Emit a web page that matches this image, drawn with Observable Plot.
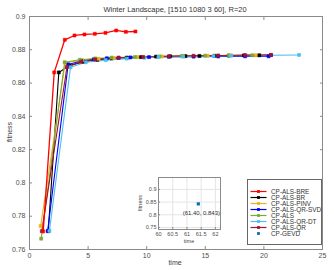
<!DOCTYPE html>
<html><head><meta charset="utf-8">
<script src="https://cdn.jsdelivr.net/npm/d3@7"></script>
<script src="https://cdn.jsdelivr.net/npm/@observablehq/plot@0.6"></script>
<style>
body{margin:0;background:#fff;}
#wrap{position:relative;width:334px;height:270px;font-family:"Liberation Sans",Arial,sans-serif;}
#wrap svg{position:absolute;overflow:visible;}
.lbl{position:absolute;color:#404040;white-space:nowrap;line-height:1;}
</style></head>
<body><div id="wrap"></div>
<script>
const title = "Winter Landscape, [1510 1080 3 60], R=20";
const xLabel = "time";
const yLabel = "fitness";
const xTicks = [0, 5, 10, 15, 20, 25];
const yTicks = [0.76, 0.78, 0.8, 0.82, 0.84, 0.86, 0.88, 0.9];

const seriesNames = ["CP-ALS-BRE","CP-ALS-BR","CP-ALS-PINV","CP-ALS-QR-SVD","CP-ALS","CP-ALS-QR-DT","CP-ALS-QR","CP-GEVD"];
const seriesColors = ["#FF0000","#000000","#EDB120","#0000FF","#77AC30","#4DBEEE","#A2142F","#0072BD"];

const breT = [1.17, 2.11, 3.01, 3.84, 4.69, 5.57, 6.48, 7.40, 8.22, 9.04];
const breF = [0.7709, 0.8664, 0.8860, 0.8886, 0.8892, 0.8896, 0.8902, 0.8916, 0.8908, 0.8910];
const brT = [1.6, 2.5, 3.4, 4.6, 5.8, 7.0, 8.3, 9.5, 10.8, 12.0, 13.3, 14.5, 15.8, 17.0, 18.3, 19.6, 20.6];
const brF = [0.7710, 0.8664, 0.8705, 0.8728, 0.8740, 0.8748, 0.8753, 0.8756, 0.8759, 0.8761, 0.8762, 0.8763, 0.8764, 0.8765, 0.8766, 0.8767, 0.8768];
const pinvT = [0.95, 3.05, 4.5, 5.9, 7.2, 9.2, 11.3, 13.1, 15.2, 17.2, 19.3];
const pinvF = [0.7741, 0.8722, 0.8738, 0.8746, 0.8751, 0.8756, 0.8760, 0.8762, 0.8764, 0.8766, 0.8767];
const qrsvdT = [1.55, 3.3, 4.4, 5.5, 6.6, 7.6, 8.6, 10.2, 11.9, 14.0, 16.1, 18.4, 20.4];
const qrsvdF = [0.7712, 0.8712, 0.8733, 0.8743, 0.8749, 0.8752, 0.8754, 0.8756, 0.8758, 0.8759, 0.8760, 0.8761, 0.8761];
const alsT = [1.0, 3.0, 4.3, 5.6, 7.0, 9.0, 11.1, 13.0, 15.0, 17.0, 19.0];
const alsF = [0.7665, 0.8725, 0.8740, 0.8748, 0.8753, 0.8757, 0.8760, 0.8763, 0.8765, 0.8766, 0.8767];
const qrdtT = [1.7, 3.5, 4.8, 6.5, 8.3, 9.8, 11.0, 13.1, 15.7, 17.2, 23.0];
const qrdtF = [0.7712, 0.8695, 0.8725, 0.8738, 0.8747, 0.8752, 0.8756, 0.8759, 0.8763, 0.8765, 0.8769];
const qrT = [1.05, 3.2, 4.4, 5.6, 7.6, 9.7, 11.9, 14.0, 16.1, 18.4, 20.6];
const qrF = [0.7710, 0.8697, 0.8728, 0.8742, 0.8752, 0.8757, 0.8761, 0.8764, 0.8766, 0.8768, 0.8769];

const gevdT = [61.40];
const gevdF = [0.843];
const insetXTicks = [60, 60.5, 61, 61.5, 62];
const insetYTicks = [0.75, 0.8, 0.85, 0.9];

const allT = [breT, brT, pinvT, qrsvdT, alsT, qrdtT, qrT];
const allF = [breF, brF, pinvF, qrsvdF, alsF, qrdtF, qrF];
const rows = [];
allT.forEach((ts, s) => ts.forEach((t, i) => rows.push({s: seriesNames[s], t, f: allF[s][i]})));
const gevd = gevdT.map((t, i) => ({t, f: gevdF[i]}));

const color = {domain: seriesNames, range: seriesColors};
const font = "Liberation Sans, Arial, sans-serif";
const axisCol = "#8a8a8a";
const txtCol = "#4d4d4d";
const wrap = document.getElementById("wrap");

const main = Plot.plot({
  width: 334, height: 270,
  marginLeft: 29, marginRight: 12, marginTop: 16, marginBottom: 21,
  x: {domain: [0, 25]},
  y: {domain: [0.76, 0.9]},
  color,
  style: {fontFamily: font, fontSize: "7px", color: txtCol, background: "white"},
  marks: [
    Plot.frame({stroke: axisCol}),
    Plot.axisX({anchor: "bottom", ticks: xTicks, tickSize: -3, tickPadding: 7, label: null, stroke: axisCol, fill: txtCol}),
    Plot.axisX({anchor: "top", ticks: xTicks, tickSize: -3, tickFormat: () => "", label: null, stroke: axisCol}),
    Plot.axisY({anchor: "left", ticks: yTicks, tickSize: -3, tickPadding: 7, tickFormat: d3.format(".2~f"), label: null, stroke: axisCol, fill: txtCol}),
    Plot.axisY({anchor: "right", ticks: yTicks, tickSize: -3, tickFormat: () => "", label: null, stroke: axisCol}),
    Plot.line(rows.filter(d => d.s !== "CP-ALS-BRE"), {x: "t", y: "f", z: "s", stroke: "s", strokeWidth: 1.1}),
    Plot.dot(rows.filter(d => d.s !== "CP-ALS-BRE"), {x: "t", y: "f", fill: "s", stroke: "s", symbol: "square", r: 1.7, strokeWidth: 0.6}),
    Plot.line(rows.filter(d => d.s === "CP-ALS-BRE"), {x: "t", y: "f", stroke: "s", strokeWidth: 1.3}),
    Plot.dot(rows.filter(d => d.s === "CP-ALS-BRE"), {x: "t", y: "f", fill: "s", stroke: "s", symbol: "square", r: 1.7, strokeWidth: 0.6})
  ]
});
main.style.left = "0px"; main.style.top = "0px";
wrap.appendChild(main);

function label(text, css) {
  const d = document.createElement("div");
  d.className = "lbl";
  d.textContent = text;
  Object.assign(d.style, css);
  wrap.appendChild(d);
}
label(title, {left: "175px", top: "6px", fontSize: "7.5px", transform: "translateX(-50%)", color: "#333"});
label(xLabel, {left: "175px", top: "259px", fontSize: "7px", transform: "translateX(-50%)"});
label(yLabel, {left: "9px", top: "132px", fontSize: "7px", transform: "translate(-50%,-50%) rotate(-90deg)"});

const inset = Plot.plot({
  width: 92, height: 74,
  marginLeft: 28, marginRight: 2, marginTop: 5, marginBottom: 17,
  x: {domain: [60, 62.18]},
  y: {domain: [0.742, 0.947]},
  style: {fontFamily: font, fontSize: "5.5px", color: txtCol, background: "transparent"},
  marks: [
    Plot.frame({fill: "white", stroke: "none"}),
    Plot.gridX(insetXTicks, {stroke: "#e4e4e4", strokeOpacity: 1}),
    Plot.gridY(insetYTicks, {stroke: "#e4e4e4", strokeOpacity: 1}),
    Plot.frame({stroke: axisCol}),
    Plot.axisX({anchor: "bottom", ticks: insetXTicks, tickSize: -2, tickPadding: 5, label: null, tickFormat: d3.format("~f"), stroke: axisCol, fill: txtCol}),
    Plot.axisY({anchor: "left", ticks: insetYTicks, tickSize: -2, tickPadding: 4, label: null, tickFormat: d3.format("~f"), stroke: axisCol, fill: txtCol}),
    Plot.dot(gevd, {x: "t", y: "f", fill: seriesColors[7], symbol: "square", r: 1.8}),
    Plot.text(gevd, {x: "t", y: "f", text: d => `(${d.t.toFixed(2)}, ${d.f.toFixed(3)})`, dy: 9, dx: 3, fontSize: 6, fill: "#333333"})
  ]
});
inset.style.left = "130px"; inset.style.top = "172px";
wrap.appendChild(inset);
label(xLabel, {left: "189px", top: "239px", fontSize: "5.5px", transform: "translateX(-50%)"});
label(yLabel, {left: "141px", top: "203px", fontSize: "5.5px", transform: "translate(-50%,-50%) rotate(-90deg)"});

const legendRows = seriesNames.map((name, i) => ({name, color: seriesColors[i], line: i < 7}));
const legend = Plot.plot({
  width: 74, height: 65,
  margin: 0,
  x: {domain: [0, 74], range: [0, 74], axis: null},
  y: {type: "point", domain: seriesNames, range: [5.7, 60], axis: null},
  style: {fontFamily: font, fontSize: "6.4px", background: "transparent"},
  marks: [
    Plot.frame({fill: "white", stroke: "#666666"}),
    Plot.link(legendRows.filter(d => d.line), {x1: 3, x2: 19, y1: "name", y2: "name", stroke: d => d.color, strokeWidth: 1.2}),
    Plot.dot(legendRows, {x: 11, y: "name", fill: d => d.color, symbol: "square", r: 1.6}),
    Plot.text(legendRows, {x: 23.5, y: "name", text: "name", textAnchor: "start", fill: "#333333"})
  ]
});
legend.style.left = "247px"; legend.style.top = "179px";
wrap.appendChild(legend);
</script></body></html>
